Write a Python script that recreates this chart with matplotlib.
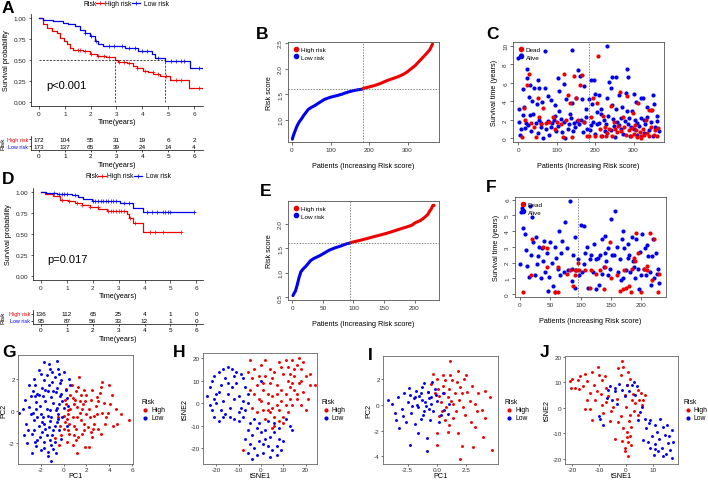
import matplotlib
matplotlib.use('Agg')
import matplotlib.pyplot as plt
from matplotlib.lines import Line2D
import numpy as np

plt.rcParams['font.family'] = ['Liberation Sans', 'DejaVu Sans']

RED = '#EE0000'
BLUE = '#0000EE'

# ---------------- data ----------------
# Panel A (KM)
A_high_t = [0, 0.17, 0.30, 0.49, 0.68, 0.81, 0.97, 1.07, 1.20, 1.33, 1.72, 1.97, 2.23, 2.60, 2.94, 3.07, 3.40, 3.65, 3.78, 4.04, 4.23, 4.43, 4.68, 4.94, 5.07, 5.82, 6.30]
A_high_s = [1.0, 0.93, 0.88, 0.845, 0.82, 0.77, 0.73, 0.69, 0.64, 0.627, 0.615, 0.58, 0.556, 0.536, 0.508, 0.484, 0.464, 0.437, 0.405, 0.377, 0.357, 0.337, 0.317, 0.31, 0.266, 0.175, 0.175]
A_low_t = [0, 0.17, 0.55, 0.94, 1.14, 1.39, 1.59, 1.78, 1.97, 2.17, 2.30, 2.49, 3.33, 3.85, 4.36, 4.49, 4.88, 5.85, 6.30]
A_low_s = [1.0, 0.976, 0.964, 0.944, 0.933, 0.913, 0.865, 0.825, 0.786, 0.734, 0.694, 0.675, 0.643, 0.615, 0.575, 0.524, 0.496, 0.405, 0.405]
A_high_cens = [1.5, 1.6, 1.8, 2.0, 2.3, 2.5, 2.7, 3.1, 3.3, 3.5, 3.8, 4.1, 4.4, 4.6, 4.9, 5.3, 5.5, 6.2]
A_low_cens = [1.8, 2.0, 2.2, 2.7, 2.9, 3.2, 3.5, 3.7, 4.0, 4.2, 4.6, 5.1, 5.3, 5.5, 5.6, 6.2]
A_median = [2.94, 4.88]
A_table_high = [172, 104, 55, 31, 19, 6, 2]
A_table_low = [173, 137, 65, 39, 24, 14, 4]

# Panel D (KM)
D_high_t = [0, 0.15, 0.48, 0.73, 1.06, 1.31, 1.57, 1.89, 2.21, 2.54, 3.31, 3.41, 3.57, 3.95, 5.40]
D_high_s = [1.0, 0.98, 0.952, 0.913, 0.893, 0.873, 0.85, 0.83, 0.80, 0.774, 0.742, 0.69, 0.63, 0.524, 0.524]
D_low_t = [0, 0.2, 0.6, 1.18, 1.44, 1.63, 1.96, 3.05, 3.56, 3.95, 5.92]
D_low_s = [1.0, 0.99, 0.98, 0.968, 0.94, 0.92, 0.90, 0.873, 0.81, 0.762, 0.762]
D_high_cens = [0.8, 1.1, 1.4, 1.6, 1.9, 2.2, 2.6, 2.7, 2.8, 2.9, 3.0, 3.1, 3.2, 3.45, 3.65, 4.2, 4.4, 4.7, 5.4]
D_low_cens = [0.5, 0.7, 0.8, 0.9, 1.0, 1.3, 2.0, 2.1, 2.2, 2.3, 2.4, 2.5, 2.6, 2.7, 2.8, 2.9, 3.2, 3.4, 4.1, 4.3, 4.5, 4.7, 4.8, 4.9, 5.0, 5.9]
D_table_high = [136, 112, 65, 25, 4, 1, 0]
D_table_low = [95, 87, 56, 33, 12, 1, 0]
table_times = [0, 1, 2, 3, 4, 5, 6]

# Panel B risk score curve
B_low_idx = [1, 3, 5, 8, 12, 16, 20, 25, 30, 35, 42, 50, 60, 72, 85, 100, 116, 130, 145, 160, 175, 184]
B_low_val = [0.62, 0.68, 0.72, 0.78, 0.86, 0.92, 0.97, 1.02, 1.08, 1.13, 1.20, 1.24, 1.28, 1.34, 1.40, 1.44, 1.47, 1.50, 1.54, 1.57, 1.59, 1.60]
B_high_idx = [185, 200, 215, 230, 245, 260, 275, 290, 300, 310, 320, 330, 340, 350, 358, 365]
B_high_val = [1.61, 1.64, 1.67, 1.71, 1.76, 1.80, 1.84, 1.89, 1.94, 2.00, 2.06, 2.14, 2.22, 2.30, 2.37, 2.48]
B_cut = [184, 1.605]

# Panel E risk score curve
E_low_idx = [1, 3, 5, 8, 11, 14, 18, 22, 26, 30, 35, 40, 45, 52, 60, 70, 80, 88, 95]
E_low_val = [0.53, 0.58, 0.62, 0.75, 0.90, 1.02, 1.08, 1.13, 1.19, 1.25, 1.29, 1.32, 1.35, 1.40, 1.46, 1.51, 1.55, 1.59, 1.61]
E_high_idx = [96, 110, 125, 140, 155, 170, 185, 195, 202, 208, 213, 218, 222, 225, 227, 230, 232]
E_high_val = [1.62, 1.66, 1.71, 1.76, 1.81, 1.87, 1.93, 1.97, 2.03, 2.06, 2.10, 2.15, 2.20, 2.27, 2.30, 2.38, 2.38]
E_cut = [95, 1.615]

# Panel C survival status (patient index, years)
C_alive = [(0,8.7),(8,9.0),(70,9.4),(139,9.5),(232,10.0),(22,7.5),(155,7.4),(283,7.5),(104,6.5),(22,6.5),(160,6.7),(190,6.3),(198,6.3),(244,6.6),(253,6.6),(285,6.6),(235,6.1),(52,6.3),
           (13,5.3),(30,5.8),(42,5.4),(55,5.4),(70,5.4),(119,5.9),(105,5.1),(170,5.6),(200,4.8),(210,4.7),(240,5.4),(262,4.7),(280,4.9),(300,4.8),(350,4.7),(3,3.2),(15,3.4),(28,4.5),
           (35,4.0),(48,3.7),(62,3.9),(78,4.6),(85,4.1),(95,3.6),(105,3.0),(125,4.2),(140,3.8),(150,4.4),(165,4.2),(175,3.2),(183,4.2),(192,3.7),(205,2.8),(215,3.2),(230,4.3),(245,3.6),
           (255,3.2),(270,3.4),(282,3.0),(296,2.9),(305,3.9),(318,4.3),(325,4.3),(335,3.4),(345,3.1),(352,3.7),(360,2.4),
           (2,1.8),(5,0.4),(8,1.0),(12,2.5),(18,1.1),(25,1.4),(30,2.5),(38,2.6),(45,1.6),(50,0.6),(55,2.0),(60,1.2),(65,0.0),(72,1.0),(80,0.4),(88,1.6),(92,2.0),(98,0.8),(102,1.3),
           (110,2.1),(118,1.8),(122,0.0),(128,1.0),(132,1.5),(138,2.2),(142,0.8),(148,1.2),(152,1.9),(158,1.5),(162,2.0),(168,0.7),(172,1.8),(178,1.0),(188,1.4),(195,1.8),(200,0.5),
           (204,1.5),(210,1.6),(218,0.2),(222,2.0),(228,1.5),(234,2.4),(240,0.9),(248,1.3),(252,0.1),(258,1.8),(263,1.4),(268,2.2),(273,0.5),(278,1.9),(285,1.5),(290,0.2),(294,1.2),
           (300,1.0),(304,2.0),(310,0.4),(315,1.3),(320,2.2),(326,0.6),(330,1.5),(336,2.3),(340,0.9),(346,1.8),(350,0.2),(356,1.2),(362,1.9),(365,0.8),
           (20,1.7),(34,0.8),(58,1.6),(76,1.9),(84,1.2),(96,2.4),(114,0.7),(134,2.6),(146,1.7),(176,2.3),(186,0.9),(214,2.6),(226,0.8),(246,2.1),(266,1.0),(288,2.2),(308,1.6),(328,2.0)]
C_dead = [(10,0.1),(15,3.3),(18,2.0),(22,5.8),(28,6.9),(32,1.6),(40,1.2),(45,0.1),(50,4.4),(55,2.3),(58,1.5),(65,3.3),(72,1.6),(80,1.8),(90,2.3),(95,1.0),(100,1.8),(110,1.5),
          (115,0.1),(120,6.9),(125,2.0),(130,4.7),(135,3.8),(140,0.1),(145,6.7),(150,4.4),(155,2.0),(160,5.8),(165,6.8),(170,1.8),(178,0.3),(185,0.3),(190,2.3),(195,4.3),(200,0.2),
          (205,3.8),(208,8.9),(212,1.0),(216,0.3),(220,2.4),(225,1.2),(228,0.2),(232,0.6),(236,1.0),(240,3.5),(244,0.3),(248,1.8),(252,1.0),(256,0.7),(260,1.3),(264,5.0),(268,0.8),
          (272,2.3),(276,1.2),(280,0.4),(284,4.6),(288,0.9),(292,0.2),(296,1.1),(300,0.5),(304,1.4),(308,0.1),(312,3.8),(316,0.7),(320,0.2),(324,1.0),(328,0.4),(332,2.0),(336,0.6),
          (340,0.2),(344,1.2),(348,3.1),(352,0.4),(356,0.9),(360,0.2),(364,1.1),(340,3.1),(318,0.0),(305,0.9),(298,2.7)]

# Panel F survival status
F_alive = [(0,1.9),(2,5.2),(3,5.5),(5,4.2),(8,3.8),(10,2.8),(12,1.8),(14,1.1),(16,5.6),(18,2.5),(20,4.9),(22,3.3),(25,1.2),(28,1.9),(30,2.4),(32,3.0),(35,1.0),(38,2.1),(40,3.4),
           (42,1.4),(45,2.6),(48,1.1),(50,3.3),(52,2.0),(55,0.5),(58,3.0),(60,2.3),(62,1.6),(65,4.0),(68,2.6),(70,3.4),(72,1.4),(75,4.6),(78,2.9),(80,1.5),(82,5.9),(85,1.6),(88,2.5),
           (90,3.6),(92,1.5),(95,2.2),(98,1.2),(100,4.4),(102,1.4),(105,4.3),(108,2.6),(110,3.0),(112,0.4),(115,2.2),(118,2.5),(120,1.4),(122,3.2),(125,2.2),(128,2.3),(130,0.6),
           (132,2.5),(135,3.5),(138,1.7),(140,3.7),(142,2.1),(145,1.2),(148,1.6),(150,4.8),(152,2.5),(155,2.5),(157,5.3),(160,3.0),(162,1.4),(165,2.2),(168,3.5),(170,1.0),(172,2.9),
           (175,1.5),(178,3.2),(180,2.5),(182,1.4),(185,3.6),(188,1.7),(190,1.0),(192,3.5),(195,1.6),(198,2.7),(200,1.2),(202,3.8),(205,1.6),(208,1.2),(210,3.1),(212,2.4),(215,1.4),
           (218,2.4),(220,3.5),(222,1.0),(225,2.6),(228,1.6),(230,0.7),(170,4.0),(178,2.3),(140,2.6),(58,0.1),(90,0.4),(26,3.6),(36,2.9),(46,0.2),(66,1.2),(86,0.8),(106,1.9),(126,0.3),
           (136,1.3),(146,2.9),(166,0.9),(186,2.1),(196,0.3),(206,2.9),(216,0.6),(226,1.3)]
F_dead = [(5,0.1),(18,1.2),(20,3.5),(38,3.0),(45,2.9),(58,0.1),(62,0.1),(78,1.3),(82,1.5),(88,0.5),(90,1.2),(93,1.5),(95,2.0),(98,1.5),(108,1.5),(115,0.4),(118,1.5),(125,1.3),
          (132,1.5),(138,0.3),(140,1.7),(148,3.3),(150,1.0),(160,1.2),(165,0.2),(170,0.3),(175,0.4),(180,0.5),(183,0.1),(185,1.6),(188,2.3),(190,2.1),(192,3.9),(195,2.6),(200,0.1),
          (205,1.6),(210,1.5),(215,3.9),(218,0.9),(222,3.5),(228,0.1),(230,1.3),(90,1.5),(62,1.7),(44,1.7),(210,1.8),(172,1.5)]

# Panel G PCA
G_low = [(-1.7,3.0),(-0.6,3.1),(-1.2,2.6),(-2.0,2.3),(-2.6,2.0),(-1.7,1.9),(-0.8,2.1),(0.05,2.4),(0.5,2.0),(0.6,1.6),(-3.4,0.65),(-3.0,0.25),(-2.4,0.55),(-2.3,1.06),(-1.4,1.26),
         (-1.1,0.86),(-0.7,1.16),(-0.2,1.06),(-2.0,-0.16),(-2.6,-0.57),(-1.7,-0.78),(-1.1,-0.37),(-0.7,0.04),(-2.8,-1.39),(-2.3,-1.8),(-1.5,-1.49),(-3.2,-1.96),(-2.4,-2.16),(-1.4,-2.5),
         (-1.1,-2.1),(-0.9,-2.37),(-1.2,0.04),(-0.4,0.45),(-1.4,-2.8),(-1.1,-3.1),(-2.2,2.5),(-1.5,2.2),(-1.0,1.8),(-0.3,1.7),(0.2,1.3),(-1.9,1.4),(-2.7,1.2),(-3.0,1.6),(-1.6,0.6),
         (-0.9,0.5),(-0.1,0.6),(0.3,0.8),(-2.1,0.3),(-1.5,0.1),(-0.5,-0.2),(0.0,0.2),(-2.9,-0.2),(-2.2,-0.9),(-1.3,-1.0),(-0.6,-0.7),(-0.1,-0.4),(-3.3,-0.8),(-2.6,-1.2),(-1.9,-1.3),
         (-1.0,-1.5),(-0.4,-1.2),(-2.0,-2.4),(-2.8,-2.6),(-1.7,-1.9),(-0.8,-1.9),(0.3,-0.9),(-3.6,0.1),(-2.5,0.9),(-1.8,-0.4),(-1.3,1.6),(-0.5,2.6),(-2.3,-0.4),(-0.8,-0.9),(-1.6,-1.1),
         (-1.2,-0.6),(-0.2,-1.7),(0.4,0.3),(-3.9,-0.1),(-0.6,1.4),(-2.5,1.6),(-1.8,0.9),(-0.9,1.2),(-0.3,0.9),(-2.7,-0.1),(-1.9,-0.7),(-0.6,0.2),(-1.4,-0.3),(-2.1,-1.6),(-0.9,-1.2),
         (-3.1,-1.2),(-2.4,0.1),(-1.6,1.3),(-0.2,1.9),(-1.0,2.4),(-2.9,0.9),(-1.2,-1.8),(-0.5,-0.5),(-3.5,-1.5),(-2.2,1.0),(-1.7,-2.3),(-0.7,-2.6),(-2.5,-1.9),(-1.3,2.9),(-0.4,2.3)]
G_high = [(1.36,2.08),(1.3,1.5),(0.2,1.37),(3.25,1.47),(2.96,0.86),(4.0,1.57),(3.4,1.78),(1.8,1.27),(2.4,0.65),(4.55,0.14),(5.7,-0.53),(4.7,-0.78),(3.7,-0.37),(2.96,-0.16),(1.2,0.24),
          (0.35,0.04),(0.8,-0.37),(1.5,-0.57),(2.1,-0.98),(2.7,-0.78),(3.25,-1.39),(1.9,-2.2),(-0.2,-1.49),(-0.4,-2.1),(-0.8,-1.69),(0.5,-1.39),(1.07,-1.8),(1.2,-2.57),(0.6,1.0),(1.0,0.7),
          (0.1,0.7),(1.7,0.4),(2.2,0.1),(0.0,-0.3),(0.5,-0.8),(1.1,-1.1),(1.6,-1.4),(2.3,-0.4),(2.8,0.3),(3.5,0.5),(3.9,-0.1),(4.3,-0.9),(3.0,-1.1),(2.5,-1.6),(1.4,-0.1),(0.9,0.4),
          (-0.3,-0.9),(0.3,-1.9),(0.8,-2.1),(2.0,1.0),(3.2,1.1),(4.2,1.0),(1.5,1.0),(0.7,1.6),(0.4,-0.2),(1.8,-0.8),(2.6,-1.1),(3.6,-0.8),(5.0,-0.2),(0.0,-1.1),(1.3,-1.6),(2.2,-2.2),
          (-0.5,-0.4),(0.2,0.4),(1.9,0.6),(2.5,1.3),(0.6,0.1),(1.2,-0.4),(0.9,-0.9),(1.6,0.1),(2.0,-0.2),(0.3,-0.5),(1.4,0.6),(0.8,0.8),(2.7,-0.3),(3.0,0.6),(1.1,1.2),(0.1,-0.7),
          (1.8,-1.2),(2.4,-1.3),(0.4,-1.2),(0.9,-1.5),(3.4,-0.1),(4.1,0.4)]

# Panel H tSNE
H_low = [(-24,3),(-23,7),(-22,10),(-21,12),(-19,14),(-17,15),(-15,16),(-13,15),(-11,14),(-9,13),(-8,11),(-20,0),(-18,-3),(-16,-5),(-14,-6),(-12,-7),(-10,-8),(-8,-6),(-7,-3),(-6,0),
         (-6,4),(-7,7),(-22,-3),(-21,-6),(-19,-8),(-17,1),(-15,4),(-13,7),(-12,2),(-14,-2),(-10,3),(-9,-2),(-18,8),(-16,11),(-20,4),(-11,9),(-6,-12),(-4,-14),(-2,-11),(0,-13),(2,-12),
         (4,-15),(6,-13),(8,-16),(-5,-18),(-3,-20),(-1,-17),(1,-22),(3,-19),(5,-21),(7,-19),(9,-21),(-7,-16),(-2,-23),(4,-24),(10,-17),(11,-7),(13,-10),(0,10),(3,-8),(-3,-7),(6,-9),
         (14,-12),(2,-16),(-4,-25),(-23,-1),(-21,2),(-19,5),(-17,-6),(-15,9),(-12,12),(-10,-4),(-8,1),(-5,-9),(-1,-9),(1,-18),(7,-23),(-6,-22),(8,-11)]
H_high = [(-5,19),(-3,15),(0,17),(2,12),(-2,8),(1,6),(4,9),(6,14),(8,18),(10,13),(12,16),(14,19),(16,17),(18,15),(15,12),(17,9),(13,7),(11,4),(9,1),(7,-1),(5,3),(3,0),(1,-3),(-1,2),
          (-3,4),(-5,6),(-4,-2),(20,12),(22,8),(19,5),(16,2),(14,-1),(12,-4),(10,-6),(8,-3),(6,-6),(4,-4),(2,-7),(18,-1),(21,2),(15,6),(12,10),(7,8),(4,15),(9,6),(-1,12),(3,4),(6,-10),
          (5,-11),(8,-8),(-8,-21),(10,-9),(17,20),(13,2),(24,8),(20,-3),(-4,11),(2,19),(5,11),(9,16),(11,19),(15,15),(19,18),(13,13),(16,4),(11,-1),(5,-2),(0,1),(-2,-4),(3,-3),(7,4),
          (14,9),(18,10),(22,13),(-6,14),(1,9)]

# Panel I PCA
I_low = [(-4.15,0.4),(-3.5,-1.2),(-2.3,-3.1),(-0.85,-3.6),(-0.85,-2.6),(-3.8,0.1),(-3.3,0.6),(-3.0,-0.3),(-2.8,0.9),(-2.5,0.2),(-2.2,-0.6),(-2.0,0.5),(-1.8,1.1),(-1.6,-0.2),(-1.5,0.7),
         (-1.3,1.4),(-1.2,-0.8),(-1.0,0.2),(-0.8,1.0),(-0.7,-0.3),(-0.5,0.6),(-0.3,-0.5),(-0.2,1.2),(0.0,0.3),(0.3,-0.8),(0.5,0.9),(-2.6,-1.3),(-1.9,-1.5),(-1.4,-1.1),(-3.2,-1.8),
         (-0.6,-1.2),(0.2,-1.3),(-2.4,1.3),(-1.1,1.7),(-0.4,1.8),(-3.6,-0.6),(-1.7,0.0),(-0.9,-0.1),(-2.1,-0.1),(0.6,-0.4),(-1.3,0.4),(-2.9,-0.9),(-0.1,0.8),(0.9,-0.7),(1.0,0.1),
         (-1.6,-2.2),(-1.9,0.6),(-1.1,-0.5),(-0.5,0.1),(-2.3,0.8),(-0.7,0.5),(-1.4,0.9)]
I_high = [(0.0,-2.2),(0.0,-3.1),(1.95,-4.2),(2.1,-3.2),(3.05,-3.3),(3.9,-2.5),(4.7,-3.5),(4.1,-1.0),(3.2,-1.7),(1.8,-2.2),(0.9,-2.1),(4.1,1.1),(3.4,-0.5),(1.1,3.4),(1.8,2.6),(2.5,2.3),
          (1.3,1.9),(-0.5,1.6),(0.0,2.0),(0.5,1.5),(1.0,1.2),(1.5,0.9),(2.0,1.4),(2.6,1.0),(3.0,1.5),(3.5,0.9),(2.8,0.3),(2.2,-0.2),(1.6,-0.5),(1.2,0.3),(0.8,-0.2),(0.3,0.2),(0.6,0.9),
          (-0.2,0.9),(0.2,-0.9),(0.7,-1.2),(1.4,-1.0),(2.4,-0.8),(3.8,-0.4),(4.5,0.6),(-0.8,1.0),(0.1,1.2),(1.7,1.8),(2.3,2.0),(0.5,2.3),(-0.3,2.4),(3.2,0.1),(2.9,-1.3),(1.0,-1.6),
          (1.9,0.4),(0.4,-0.5),(1.1,2.3),(0.9,0.6),(1.4,0.1),(0.2,0.7),(2.1,0.9),(0.7,1.9)]

# Panel J tSNE
J_low = [(-6.7,7.1),(-4.1,7.8),(-1.5,7.1),(-0.4,4.8),(-5.2,3.2),(2.2,9.0),(4.1,8.6),(3.4,5.2),(6.0,0.2),(7.1,-4.4),(9.0,-4.8),(10.9,-6.7),(12.7,-4.4),(15.4,-6.7),(17.2,-8.6),
         (8.2,-13.2),(10.9,-14.3),(13.5,-15.8),(15.7,-13.9),(17.6,-13.2),(12.0,-17.0),(13.9,-19.0),(17.2,-19.6),(9.0,-15.8),(6.4,-12.4),(-7.1,4.0),(-4.1,6.7),(0.4,9.0),(-3.4,1.4),
         (4.5,-4.8),(-9.7,-4.4),(-8.6,-6.7),(-10.2,-3.2),(11.5,-9.5),(14.5,-10.5),(16.5,-16.5),(7.5,-8.0),(9.8,-11.0),(12.5,-12.0),(15.0,-18.0),(10.5,-18.5),(-2.5,9.5),(1.0,6.5),
         (5.2,-1.5),(8.5,-6.0),(16.0,-11.0),(3.0,10.0),(-5.8,8.5),(11.0,-16.0),(14.0,-7.5)]
J_high = [(-21.0,10.5),(-19.0,7.8),(-15.4,13.5),(-12.8,14.3),(-10.5,16.2),(-9.0,10.9),(-13.5,5.9),(-11.6,3.2),(-9.0,1.0),(-6.7,4.8),(-4.9,0.2),(-1.5,18.5),(-3.0,15.5),(0.7,14.3),
          (0.4,9.0),(2.2,3.2),(4.5,7.1),(6.4,3.2),(1.5,-2.9),(-3.0,-5.5),(0.4,-9.4),(0.7,-13.2),(-0.4,-15.8),(-12.7,-4.8),(-13.5,-0.6),(4.5,-2.9),(-4.0,-12.0),(0.7,-19.0),(0.4,-11.3),
          (-20.0,11.5),(-18.0,11.0),(-17.0,12.5),(-16.0,8.5),(-17.5,7.5),(-14.5,10.5),(-12.0,9.0),(-10.0,13.0),(-8.0,12.5),(-7.5,8.0),(-11.0,6.5),(-9.5,5.5),(-7.5,2.5),(-5.5,-1.0),
          (-2.0,13.0),(-1.0,16.0),(1.5,11.5),(3.5,2.0),(5.5,6.0),(7.0,5.0),(6.0,1.0),(3.0,-1.0),(1.0,-5.0),(2.0,-7.5),(-1.0,-8.0),(1.5,-11.0),(-1.5,-13.0),(2.0,-14.5),(-0.5,-17.0),
          (-2.0,-3.0),(0.0,0.5),(-3.5,3.5),(-6.0,-5.0),(-14.5,3.0),(-15.5,-0.5),(-20.5,8.0),(-8.5,-2.0),(5.0,3.0),(2.5,5.5),(-0.5,5.0)]

# ---------------- layout helpers ----------------
W, H = 708, 481
fig = plt.figure(figsize=(W / 100, H / 100), dpi=100)


def add_ax(l, t, r, b):
    return fig.add_axes([l / W, 1 - b / H, (r - l) / W, (b - t) / H])


def ftext(x, y, s, **kw):
    fig.text(x / W, 1 - y / H, s, **kw)


def letter(x, y, s):
    ftext(x, y, s, fontsize=12.5, fontweight='bold', va='top', ha='left')


TICK_FS = 4.6
LAB_FS = 5.2


def step_at(ts, ss, c):
    return ss[int(np.searchsorted(ts, c, side='right')) - 1]


def km_panel(box, xlim, ylim, high_t, high_s, low_t, low_s, hc, lc, ptxt, ptxt_xy, median=None):
    ax = add_ax(*box)
    ax.step(high_t, high_s, where='post', color=RED, lw=0.9)
    ax.step(low_t, low_s, where='post', color=BLUE, lw=0.9)
    ax.plot(hc, [step_at(high_t, high_s, c) for c in hc],
            ls='none', marker='+', ms=2.6, mew=0.5, color=RED)
    ax.plot(lc, [step_at(low_t, low_s, c) for c in lc],
            ls='none', marker='+', ms=2.6, mew=0.5, color=BLUE)
    if median is not None:
        ax.plot([0, median[1]], [0.5, 0.5], color='black', lw=0.5, ls=(0, (3, 2)))
        for m in median:
            ax.plot([m, m], [0, 0.5], color='black', lw=0.5, ls=(0, (3, 2)))
    ax.set_xlim(*xlim)
    ax.set_ylim(*ylim)
    ax.set_xticks(range(7))
    ax.set_yticks([0, 0.25, 0.5, 0.75, 1.0])
    ax.set_yticklabels(['0.00', '0.25', '0.50', '0.75', '1.00'])
    for s in ['top', 'right']:
        ax.spines[s].set_visible(False)
    for s in ['left', 'bottom']:
        ax.spines[s].set_linewidth(0.5)
    ax.tick_params(labelsize=TICK_FS, length=1.8, width=0.5, pad=1.5, colors='#222222')
    ax.set_xlabel('Time(years)', fontsize=LAB_FS, labelpad=2)
    ax.set_ylabel('Survival probability', fontsize=LAB_FS, labelpad=3)
    ax.text(ptxt_xy[0], ptxt_xy[1], ptxt, fontsize=8, transform=ax.transData)
    return ax


def risk_table(box, xlim, high, low):
    ax = add_ax(*box)
    for i, t in enumerate(table_times):
        ax.text(t, 1.5, str(high[i]), fontsize=TICK_FS, ha='center', va='center')
        ax.text(t, 0.5, str(low[i]), fontsize=TICK_FS, ha='center', va='center')
    ax.set_xlim(*xlim)
    ax.set_ylim(0, 2)
    ax.set_xticks(table_times)
    ax.set_yticks([1.5, 0.5])
    ax.set_yticklabels(['High risk', 'Low risk'])
    ax.get_yticklabels()[0].set_color(RED)
    ax.get_yticklabels()[1].set_color(BLUE)
    for s in ['top', 'right']:
        ax.spines[s].set_visible(False)
    for s in ['left', 'bottom']:
        ax.spines[s].set_linewidth(0.5)
    ax.tick_params(axis='y', labelsize=3.9, length=1.2, width=0.5, pad=0.6)
    ax.tick_params(axis='x', labelsize=TICK_FS, length=1.5, width=0.5, pad=1.0)
    ax.set_xlabel('Time(years)', fontsize=LAB_FS, labelpad=2)
    # "Risk" axis title placed at the far left
    l, t, r, b = box
    ftext(0.5, (t + b) / 2, 'Risk', fontsize=4.6, rotation=90, va='center', ha='left')
    return ax


def km_legend(y, x0):
    ftext(x0, y, 'Risk', fontsize=LAB_FS - 0.3, va='center')
    fig.add_artist(Line2D([(x0 + 12) / W, (x0 + 20) / W], [1 - y / H] * 2, color=RED, lw=0.9))
    fig.add_artist(Line2D([(x0 + 16) / W], [1 - y / H], color=RED, marker='+', ms=2.6, mew=0.5))
    ftext(x0 + 21, y, 'High risk', fontsize=LAB_FS - 0.3, va='center')
    fig.add_artist(Line2D([(x0 + 48) / W, (x0 + 56) / W], [1 - y / H] * 2, color=BLUE, lw=0.9))
    fig.add_artist(Line2D([(x0 + 52) / W], [1 - y / H], color=BLUE, marker='+', ms=2.6, mew=0.5))
    ftext(x0 + 60, y, 'Low risk', fontsize=LAB_FS - 0.3, va='center')


def rbase(ax, xlim, ylim, xticks, yticks, xlabel, ylabel):
    ax.set_xlim(*xlim)
    ax.set_ylim(*ylim)
    ax.set_xticks(xticks)
    ax.set_yticks(yticks)
    ax.set_yticklabels([str(v) for v in yticks], rotation=90, va='center')
    for s in ax.spines.values():
        s.set_linewidth(0.6)
        s.set_color('#555555')
    ax.tick_params(labelsize=TICK_FS, length=2.0, width=0.5, pad=1.5, colors='#333333')
    ax.set_xlabel(xlabel, fontsize=LAB_FS, labelpad=7)
    ax.set_ylabel(ylabel, fontsize=LAB_FS, labelpad=4)


def risk_curve(box, xlim, ylim, xticks, yticks, lo_i, lo_v, hi_i, hi_v, cut):
    ax = add_ax(*box)
    ax.plot(lo_i, lo_v, color=BLUE, lw=2.2, solid_capstyle='round', solid_joinstyle='round')
    ax.plot(hi_i, hi_v, color=RED, lw=2.2, solid_capstyle='round', solid_joinstyle='round')
    ax.axvline(cut[0], color='#555555', lw=0.5, ls=(0, (2, 2)))
    ax.axhline(cut[1], color='#555555', lw=0.5, ls=(0, (2, 2)))
    rbase(ax, xlim, ylim, xticks, yticks, 'Patients (Increasing Risk score)', 'Risk score')
    h = [Line2D([], [], ls='none', marker='o', ms=3, color=RED),
         Line2D([], [], ls='none', marker='o', ms=3, color=BLUE)]
    ax.legend(h, ['High risk', 'Low risk'], loc='upper left', frameon=False, fontsize=TICK_FS,
              handletextpad=0.3, borderaxespad=0.3, labelspacing=0.35, handlelength=1.0)
    return ax


def status_panel(box, xlim, ylim, xticks, yticks, dead, alive, cut):
    ax = add_ax(*box)
    a = np.array(alive).T
    d = np.array(dead).T
    ax.scatter(a[0], a[1], s=9, color=BLUE, lw=0)
    ax.scatter(d[0], d[1], s=9, color=RED, lw=0)
    ax.axvline(cut, color='#555555', lw=0.5, ls=(0, (2, 2)))
    rbase(ax, xlim, ylim, xticks, yticks, 'Patients (Increasing Risk score)', 'Survival time (years)')
    h = [Line2D([], [], ls='none', marker='o', ms=3, color=RED),
         Line2D([], [], ls='none', marker='o', ms=3, color=BLUE)]
    ax.legend(h, ['Dead', 'Alive'], loc='upper left', frameon=False, fontsize=TICK_FS,
              handletextpad=0.3, borderaxespad=0.3, labelspacing=0.35, handlelength=1.0)
    return ax


def cluster_panel(box, xlim, ylim, xticks, xtl, yticks, ytl, high, low, xl, yl, legx):
    ax = add_ax(*box)
    hh = np.array(high).T
    ll = np.array(low).T
    ax.scatter(hh[0], hh[1], s=4.5, color=RED, lw=0)
    ax.scatter(ll[0], ll[1], s=4.5, color=BLUE, lw=0)
    ax.set_xlim(*xlim)
    ax.set_ylim(*ylim)
    ax.set_xticks(xticks)
    ax.set_xticklabels(xtl)
    ax.set_yticks(yticks)
    ax.set_yticklabels(ytl)
    for s in ax.spines.values():
        s.set_linewidth(0.6)
        s.set_color('#666666')
    ax.tick_params(labelsize=TICK_FS, length=1.5, width=0.5, pad=0.8, colors='#333333')
    ax.set_xlabel(xl, fontsize=LAB_FS, labelpad=0.0)
    ax.set_ylabel(yl, fontsize=LAB_FS, labelpad=1)
    # legend
    ftext(legx, 403, 'Risk', fontsize=LAB_FS - 0.3, va='center')
    for yy, lab, c in [(411, 'High', RED), (419, 'Low', BLUE)]:
        fig.add_artist(Line2D([(legx + 4) / W], [1 - yy / H], ls='none', marker='o', ms=2.0, color=c))
        ftext(legx + 10, yy, lab, fontsize=LAB_FS - 0.3, va='center')
    return ax


# ---------------- panels ----------------
# A
km_panel((31, 15, 203, 107), (-0.31, 6.35), (-0.044, 1.05), A_high_t, A_high_s, A_low_t, A_low_s,
         A_high_cens, A_low_cens, 'p<0.001', (0.3, 0.17), median=A_median)
km_legend(4, 84)
risk_table((31, 137, 203, 150.5), (-0.31, 6.35), A_table_high, A_table_low)
letter(2, 1, 'A')

# D
km_panel((33, 189, 203, 281), (-0.31, 6.26), (-0.044, 1.05), D_high_t, D_high_s, D_low_t, D_low_s,
         D_high_cens, D_low_cens, 'p=0.017', (0.25, 0.17))
km_legend(177, 86)
risk_table((33, 311, 203, 325), (-0.31, 6.26), D_table_high, D_table_low)
letter(2, 172, 'D')

# B
risk_curve((288, 43, 439, 143), (-10.4, 381.8), (0.564, 2.52), [0, 100, 200, 300], [1.0, 1.5, 2.0, 2.5],
           B_low_idx, B_low_val, B_high_idx, B_high_val, B_cut)
letter(256, 27, 'B')

# E
risk_curve((288, 202, 439, 301), (-7.1, 240), (0.44, 2.47), [0, 50, 100, 150, 200], [0.5, 1.0, 1.5, 2.0],
           E_low_idx, E_low_val, E_high_idx, E_high_val, E_cut)
letter(260, 184, 'E')

# C
status_panel((513, 43, 664, 143), (-13.8, 379), (-0.4, 10.4), [0, 100, 200, 300], [0, 2, 4, 6, 8, 10],
             C_dead, C_alive, 184)
letter(486, 27, 'C')

# F
status_panel((515, 198, 666, 298), (-8.3, 241), (-0.19, 6.17), [0, 50, 100, 150, 200], [0, 1, 2, 3, 4, 5, 6],
             F_dead, F_alive, 95)
letter(486, 180, 'F')

# G
cluster_panel((18, 356, 133, 465), (-4.0, 6.08), (-3.27, 3.45), [-2, 0, 2, 4, 6], ['-2', '0', '2', '4', '6'],
              [-2, 0, 2], ['-2', '0', '2'], G_high, G_low, 'PC1', 'PC2', 141)
letter(2, 345, 'G')

# H
cluster_panel((203, 354, 317, 465), (-26, 25.1), (-27, 22.2), [-20, -10, 0, 10, 20], ['-20', '-10', '0', '10', '20'],
              [-20, -10, 0, 10, 20], ['-20', '-10', '0', '10', '20'], H_high, H_low, 'tSNE1', 'tSNE2', 322)
letter(173, 345, 'H')

# I
cluster_panel((383, 357, 498, 465), (-4.6, 5.2), (-4.6, 3.8), [-2.5, 0, 2.5], ['-2.5', '0.0', '2.5'],
              [-4, -2, 0, 2], ['-4', '-2', '0', '2'], I_high, I_low, 'PC1', 'PC2', 505)
letter(368, 348, 'I')

# J
cluster_panel((565, 357, 678, 465), (-22.8, 19.5), (-22, 20.4), [-20, -10, 0, 10], ['-20', '-10', '0', '10'],
              [-20, -10, 0, 10, 20], ['-20', '-10', '0', '10', '20'], J_high, J_low, 'tSNE1', 'tSNE2', 684)
letter(540, 345, 'J')

fig.savefig('out.png', dpi=100)
